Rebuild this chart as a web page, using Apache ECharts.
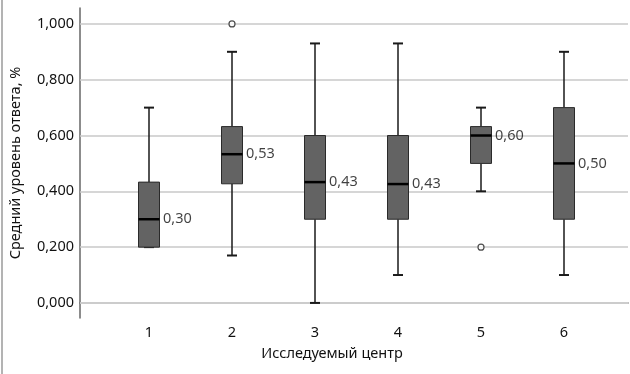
<!DOCTYPE html>
<html>
<head>
<meta charset="UTF-8">
<title>Средний уровень ответа</title>
<script src="https://cdn.jsdelivr.net/npm/echarts@6/dist/echarts.min.js"></script>
<style>
  html, body { margin: 0; padding: 0; background: #fff; }
  #main { width: 630px; height: 374px; }
</style>
</head>
<body>
<div id="main"></div>
<script>
// данные
var centers = ['1', '2', '3', '4', '5', '6'];
// [min, Q1, медиана, Q3, max]
var boxes = [
    [0.20, 0.20, 0.30, 0.433, 0.70],
    [0.17, 0.427, 0.533, 0.632, 0.90],
    [0.00, 0.30, 0.433, 0.60, 0.93],
    [0.10, 0.30, 0.426, 0.60, 0.93],
    [0.40, 0.50, 0.60, 0.632, 0.70],
    [0.10, 0.30, 0.50, 0.70, 0.90]
];
// выбросы: [центр, значение]
var outliers = [['2', 1.00], ['5', 0.20]];
var yTicks = [0, 0.2, 0.4, 0.6, 0.8, 1.0];

var yMin = -0.054, yMax = 1.057;

function fmt(v, d) { return v.toFixed(d).replace('.', ','); }

var boxData = boxes.map(function (b, i) { return [i].concat(b); });
var medians = boxes.map(function (b, i) { return [centers[i], b[2]]; });

var chart = echarts.init(document.getElementById('main'));

chart.setOption({
    animation: false,
    textStyle: { fontFamily: 'Noto Sans' },
    graphic: [{
        type: 'line',
        shape: { x1: 2, y1: 0, x2: 2, y2: 374 },
        style: { stroke: '#9a9a9a', lineWidth: 1.5 }
    }],
    grid: [
        { left: 79, right: 2, top: 8, bottom: 56 },
        { left: 107.5, width: 498, top: 8, bottom: 56 }
    ],
    xAxis: [{
        gridIndex: 0, type: 'value', min: 0, max: 1,
        axisLine: { show: true, lineStyle: { color: '#666', width: 1.5 } },
        axisTick: { show: false }, axisLabel: { show: false }, splitLine: { show: false },
        name: 'Исследуемый центр', nameLocation: 'middle', nameGap: 28,
        nameTextStyle: { fontSize: 14.5, color: '#111', padding: [0, 44, 0, 0] }
    }, {
        gridIndex: 1, type: 'category', data: centers,
        axisLine: { show: false }, axisTick: { show: false },
        axisLabel: { fontSize: 14.5, color: '#111', margin: 7 }
    }],
    yAxis: [{
        gridIndex: 0, type: 'value', min: yMin, max: yMax,
        axisLine: { show: true, lineStyle: { color: '#666', width: 1.5 } },
        axisTick: { show: false },
        axisLabel: {
            fontSize: 14.5, color: '#111', margin: 6,
            customValues: yTicks,
            formatter: function (v) { return fmt(v, 3); }
        },
        splitLine: { show: false },
        name: 'Средний уровень ответа, %', nameLocation: 'middle', nameGap: 57,
        nameTextStyle: { fontSize: 14.5, color: '#111' }
    }, {
        gridIndex: 1, type: 'value', min: yMin, max: yMax, show: false
    }],
    series: [{
        // линии сетки
        type: 'line', xAxisIndex: 0, yAxisIndex: 0, data: [], z: 1,
        markLine: {
            silent: true, symbol: 'none', label: { show: false }, z: 1,
            data: yTicks.map(function (t) {
                return {
                    yAxis: t,
                    lineStyle: { type: 'solid', width: 1.5, color: t === 0 ? '#e2e2e2' : '#c9c9c9' }
                };
            })
        }
    }, {
        type: 'custom', xAxisIndex: 1, yAxisIndex: 1, data: boxData, z: 5,
        encode: { x: 0, y: [1, 2, 3, 4, 5] },
        renderItem: function (params, api) {
            var i = api.value(0);
            var lo = api.coord([i, api.value(1)]);
            var q1 = api.coord([i, api.value(2)]);
            var md = api.coord([i, api.value(3)]);
            var q3 = api.coord([i, api.value(4)]);
            var hi = api.coord([i, api.value(5)]);
            var x = lo[0], hw = 10.5, cw = 5;
            var ls = { stroke: '#1a1a1a', lineWidth: 1.5 };
            return {
                type: 'group',
                children: [
                    { type: 'line', shape: { x1: x, y1: hi[1], x2: x, y2: q3[1] }, style: ls },
                    { type: 'line', shape: { x1: x, y1: q1[1], x2: x, y2: lo[1] }, style: ls },
                    { type: 'line', shape: { x1: x - cw, y1: hi[1], x2: x + cw, y2: hi[1] }, style: { stroke: '#1a1a1a', lineWidth: 2 } },
                    { type: 'line', shape: { x1: x - cw, y1: lo[1], x2: x + cw, y2: lo[1] }, style: { stroke: '#1a1a1a', lineWidth: 2 } },
                    { type: 'rect', shape: { x: x - hw, y: q3[1], width: hw * 2, height: q1[1] - q3[1] },
                      style: { fill: '#636363', stroke: '#2a2a2a', lineWidth: 1 } },
                    { type: 'line', shape: { x1: x - hw, y1: md[1], x2: x + hw, y2: md[1] },
                      style: { stroke: '#000', lineWidth: 2.5 } }
                ]
            };
        }
    }, {
        // подписи медиан
        type: 'scatter', xAxisIndex: 1, yAxisIndex: 1, data: medians, z: 6,
        symbolSize: 0, silent: true,
        label: {
            show: true, position: 'right', distance: 14,
            fontSize: 14.5, color: '#111',
            formatter: function (p) { return fmt(p.value[1], 2); }
        }
    }, {
        type: 'scatter', xAxisIndex: 1, yAxisIndex: 1, data: outliers, z: 6,
        symbol: 'circle', symbolSize: 6, silent: true,
        itemStyle: { color: '#fff', borderColor: '#222', borderWidth: 1.2 }
    }]
});
</script>
</body>
</html>
